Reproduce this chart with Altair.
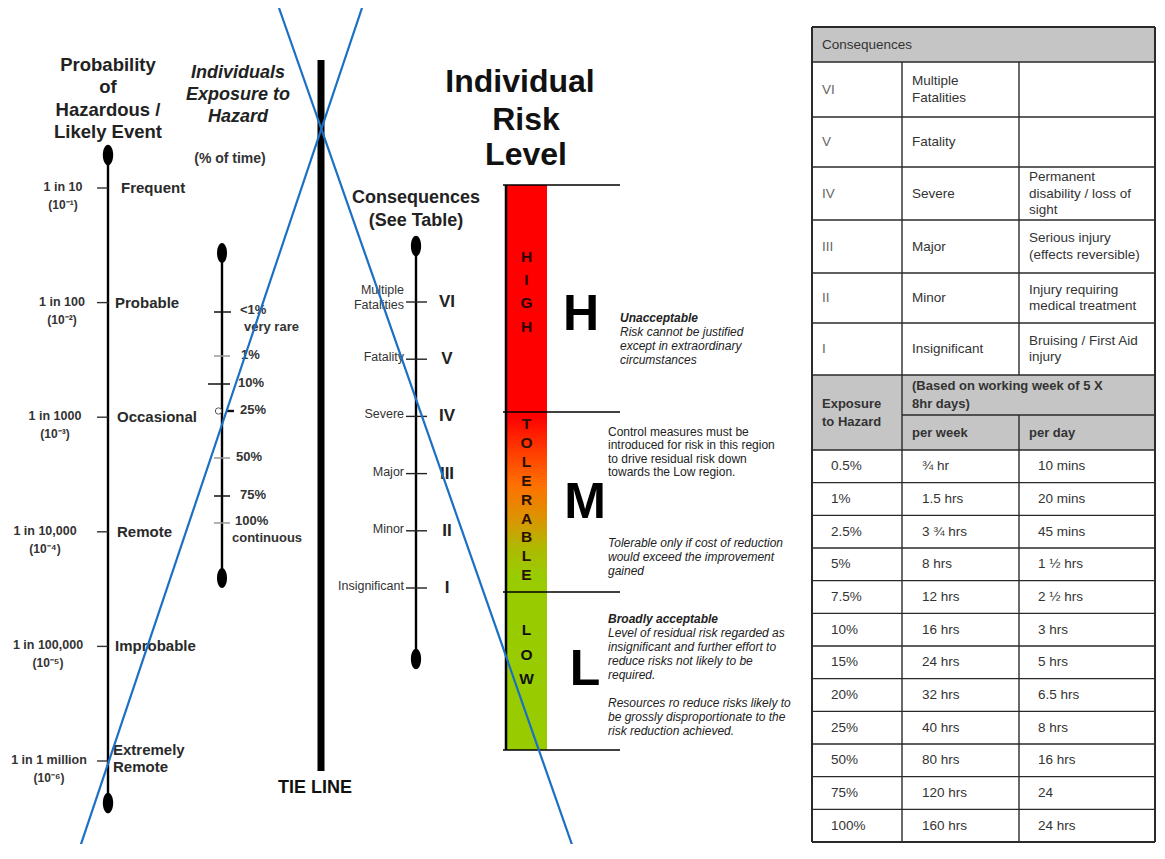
import altair as alt
import pandas as pd

FONT = "Liberation Sans"

# ---------------- values ----------------
prob_labels = ["1 in 10", "1 in 100", "1 in 1000", "1 in 10,000", "1 in 100,000", "1 in 1 million"]
prob_powers = ["(10⁻¹)", "(10⁻²)", "(10⁻³)", "(10⁻⁴)", "(10⁻⁵)", "(10⁻⁶)"]
prob_exponent = [-1, -2, -3, -4, -5, -6]
prob_names = [["Frequent"], ["Probable"], ["Occasional"], ["Remote"], ["Improbable"], ["Extremely", "Remote"]]

exposure_labels = ["<1%", "1%", "10%", "25%", "50%", "75%", "100%"]
exposure_notes = ["very rare", "", "", "", "", "", "continuous"]

cons_level = [6, 5, 4, 3, 2, 1]
cons_roman = ["VI", "V", "IV", "III", "II", "I"]
cons_names = [["Multiple", "Fatalities"], ["Fatality"], ["Severe"], ["Major"], ["Minor"], ["Insignificant"]]
cons_effects = [[], [], ["Permanent", "disability / loss of", "sight"],
                ["Serious injury", "(effects reversible)"],
                ["Injury requiring", "medical treatment"],
                ["Bruising  / First Aid", "injury"]]

risk_words = ["HIGH", "TOLERABLE", "LOW"]
risk_letters = ["H", "M", "L"]

table_exposure = ["0.5%", "1%", "2.5%", "5%", "7.5%", "10%", "15%", "20%", "25%", "50%", "75%", "100%"]
table_per_week = ["¾ hr", "1.5 hrs", "3 ¾ hrs", "8 hrs", "12 hrs", "16 hrs", "24 hrs", "32 hrs",
                  "40 hrs", "80 hrs", "120 hrs", "160 hrs"]
table_per_day = ["10 mins", "20 mins", "45 mins", "1 ½ hrs", "2 ½ hrs", "3 hrs", "5 hrs", "6.5 hrs",
                 "8 hrs", "16 hrs", "24", "24 hrs"]

# ---------------- layout ----------------
W, H = 1149, 836
xs = alt.Scale(domain=[8, 1157], nice=False, zero=False)
ys = alt.Scale(domain=[8, 8 + H], nice=False, zero=False, reverse=True)
X = alt.X("x:Q", scale=xs, axis=None)
Y = alt.Y("y:Q", scale=ys, axis=None)
X2 = alt.X2("x2:Q")
Y2 = alt.Y2("y2:Q")

layers = []


def rules(rows, color="#111", width=1.5):
    df = pd.DataFrame(rows, columns=["x", "y", "x2", "y2"])
    layers.append(alt.Chart(df).mark_rule(color=color, strokeWidth=width, strokeCap="butt")
                  .encode(x=X, y=Y, x2=X2, y2=Y2))


def rects(rows, **mk):
    df = pd.DataFrame(rows, columns=["x", "y", "x2", "y2"])
    layers.append(alt.Chart(df).mark_rect(**mk).encode(x=X, y=Y, x2=X2, y2=Y2))


def texts(rows, size, weight="normal", style="normal", align="left", color="#222"):
    df = pd.DataFrame(rows, columns=["x", "y", "t"])
    layers.append(alt.Chart(df).mark_text(font=FONT, fontSize=size, fontWeight=weight, fontStyle=style,
                                          align=align, baseline="middle", color=color)
                  .encode(x=X, y=Y, text="t:N"))


ELLIPSE = ("M0,-1 C0.276,-1 0.5,-0.552 0.5,0 C0.5,0.552 0.276,1 0,1 "
           "C-0.276,1 -0.5,0.552 -0.5,0 C-0.5,-0.552 -0.276,-1 0,-1 Z")


def dots(rows, size=420):
    df = pd.DataFrame(rows, columns=["x", "y"])
    layers.append(alt.Chart(df).mark_point(shape=ELLIPSE, filled=True, color="#000", opacity=1, size=size)
                  .encode(x=X, y=Y))


# ---------------- table (right) ----------------
TX = [812, 902, 1019, 1155]
cons_rows_y = [27, 62, 117, 167, 220, 273, 323, 375]
HDR2, SUB, DATA_TOP, BOTTOM = 375, 415, 450, 842
n = len(table_exposure)
row_h = (BOTTOM - DATA_TOP) / n
data_y = [DATA_TOP + i * row_h for i in range(n + 1)]

rects([(TX[0], cons_rows_y[0], TX[3], cons_rows_y[1]), (TX[0], HDR2, TX[3], DATA_TOP)], color="#c5c5c5")

hlines = [(TX[0], y, TX[3], y) for y in cons_rows_y[1:]] + [(TX[0], y, TX[3], y) for y in data_y]
hlines.append((TX[1], SUB, TX[3], SUB))
vlines = [(TX[1], cons_rows_y[1], TX[1], BOTTOM), (TX[2], cons_rows_y[1], TX[2], HDR2),
          (TX[2], SUB, TX[2], BOTTOM)]
rules(hlines + vlines, color="#2a2a2a", width=1.4)
rules([(TX[0], cons_rows_y[0], TX[3], cons_rows_y[0]), (TX[0], BOTTOM, TX[3], BOTTOM),
       (TX[0], cons_rows_y[0], TX[0], BOTTOM), (TX[3], cons_rows_y[0], TX[3], BOTTOM)],
      color="#2a2a2a", width=2)

texts([(TX[0] + 10, (cons_rows_y[0] + cons_rows_y[1]) / 2, "Consequences")], 13.5, color="#333")
roman_rows, name_rows, effect_rows = [], [], []
for i, r in enumerate(cons_roman):
    cy = (cons_rows_y[i + 1] + cons_rows_y[i + 2]) / 2
    roman_rows.append((TX[0] + 10, cy, r))
    nm = cons_names[i]
    for k, line in enumerate(nm):
        name_rows.append((TX[1] + 10, cy + (k - (len(nm) - 1) / 2) * 16.5, line))
    ef = cons_effects[i]
    for k, line in enumerate(ef):
        effect_rows.append((TX[2] + 10, cy + (k - (len(ef) - 1) / 2) * 16.5, line))
texts(roman_rows, 13.5, color="#666")
texts(name_rows + effect_rows, 13.5, color="#333")

hdr_c = (HDR2 + DATA_TOP) / 2
texts([(TX[0] + 10, hdr_c - 9, "Exposure"), (TX[0] + 10, hdr_c + 9, "to Hazard"),
       (TX[1] + 10, (HDR2 + SUB) / 2 - 9, "(Based on working week of 5 X"),
       (TX[1] + 10, (HDR2 + SUB) / 2 + 9, "8hr days)"),
       (TX[1] + 10, (SUB + DATA_TOP) / 2, "per week"), (TX[2] + 10, (SUB + DATA_TOP) / 2, "per day")],
      13, weight="bold", color="#333")
data_rows = []
for i in range(n):
    cy = (data_y[i] + data_y[i + 1]) / 2
    data_rows += [(TX[0] + 19, cy, table_exposure[i]), (TX[1] + 20, cy, table_per_week[i]),
                  (TX[2] + 19, cy, table_per_day[i])]
texts(data_rows, 13.5, color="#333")

# ---------------- risk level bar ----------------
RB = [185, 412, 592, 750]
BAR_L, BAR_R, LINE_R = 506, 547, 620
grad = alt.Gradient(gradient="linear", x1=0, x2=0, y1=0, y2=1, stops=[
    alt.GradientStop(color="#ff0000", offset=0),
    alt.GradientStop(color="#ff0000", offset=0.41),
    alt.GradientStop(color="#ff3a00", offset=0.47),
    alt.GradientStop(color="#ff7000", offset=0.53),
    alt.GradientStop(color="#dc9400", offset=0.59),
    alt.GradientStop(color="#b0b800", offset=0.64),
    alt.GradientStop(color="#99cc00", offset=0.69),
    alt.GradientStop(color="#99cc00", offset=1)])
rects([(BAR_L, RB[0], BAR_R, RB[3])], color=grad)
rules([(BAR_L, RB[0], BAR_L, RB[3])], color="#000", width=2.5)
rules([(BAR_L - 3, y, LINE_R, y) for y in RB], color="#000", width=1.3)

word_cfg = [(257, 23.2), (424, 18.9), (630, 24.5)]
word_colors = ["#2a0000", "#2a1000", "#111"]
for w, (y0, step), col in zip(risk_words, word_cfg, word_colors):
    texts([((BAR_L + BAR_R) / 2, y0 + k * step, ch) for k, ch in enumerate(w)], 15.5, weight="bold",
          color=col, align="center")

texts([(581, 315, risk_letters[0]), (585, 503, risk_letters[1]), (585, 670, risk_letters[2])],
      50, weight="bold", align="center", color="#000")

texts([(520, 82, "Individual"), (526, 120, "Risk"), (526, 155, "Level")],
      32, weight="bold", align="center", color="#111")

texts([(620, 318, "Unacceptable"), (608, 619, "Broadly acceptable")], 12, weight="bold", style="italic")
texts([(620, 332, "Risk cannot be justified"), (620, 346, "except in extraordinary"),
       (620, 360, "circumstances"),
       (608, 543, "Tolerable only if cost of reduction"), (608, 557, "would exceed the improvement"),
       (608, 571, "gained"),
       (608, 633, "Level of residual risk regarded as"), (608, 647, "insignificant and further effort to"),
       (608, 661, "reduce risks not likely to be"), (608, 675, "required."),
       (608, 703, "Resources ro reduce risks likely to"), (608, 717, "be grossly disproportionate to the"),
       (608, 731, "risk reduction achieved.")], 12, style="italic")
texts([(608, 432, "Control measures must be"), (608, 445, "introduced for risk in this region"),
       (608, 459, "to drive residual risk down"), (608, 472, "towards the Low region.")], 12)

# ---------------- probability axis ----------------
PROB_X = 108


def prob_y(e):
    return 188 + (-1 - e) * 114.6


prob_label_cx = [63, 62, 55, 45, 48, 49]
prob_name_x = [121, 115, 117, 117, 115, 113]
rules([(PROB_X, 155, PROB_X, 803)], color="#000", width=2.4)
dots([(PROB_X, 155), (PROB_X, 803)], size=430)
rules([(97, prob_y(e), PROB_X, prob_y(e)) for e in prob_exponent], color="#333", width=1.4)
texts([(cx, prob_y(e) - 1, lab) for cx, e, lab in zip(prob_label_cx, prob_exponent, prob_labels)],
      12.5, weight="bold", align="center", color="#333")
texts([(cx, prob_y(e) + 17, p) for cx, e, p in zip(prob_label_cx, prob_exponent, prob_powers)],
      12, weight="bold", align="center", color="#333")
name_rows = []
for nx, e, nm in zip(prob_name_x, prob_exponent, prob_names):
    if len(nm) == 1:
        name_rows.append((nx, prob_y(e), nm[0]))
    else:
        name_rows += [(nx, prob_y(e) - 11, nm[0]), (nx, prob_y(e) + 6, nm[1])]
texts(name_rows, 15, weight="bold", color="#2a2a2a")
texts([(PROB_X, 65, "Probability"), (PROB_X, 87, "of"), (PROB_X, 110, "Hazardous /"),
       (PROB_X, 132, "Likely Event")], 18.5, weight="bold", align="center", color="#222")

# ---------------- exposure axis ----------------
EXP_X = 222
exp_tick_y = [312, 356, 384, 411, 458, 496, 523]
exp_tick_x1 = [214, 214, 208, 226, 214, 214, 214]
exp_tick_x2 = [231, 230, 230, 234, 230, 230, 230]
exp_tick_col = ["#111", "#999", "#111", "#111", "#999", "#111", "#999"]
rules([(EXP_X, 253, EXP_X, 578)], color="#000", width=2.4)
dots([(EXP_X, 253), (EXP_X, 578)], size=400)
for y, a, b, c in zip(exp_tick_y, exp_tick_x1, exp_tick_x2, exp_tick_col):
    rules([(a, y, b, y)], color=c, width=2.4 if a == 226 else 1.5)
layers.append(alt.Chart(pd.DataFrame({"x": [218.5], "y": [411]})).mark_point(
    shape="circle", filled=True, fill="white", stroke="#555", strokeWidth=1, size=40, opacity=1)
    .encode(x=X, y=Y))
exp_label_x = [240, 241, 238, 240, 236, 240, 235]
exp_rows = []
for lx, y, lab, note in zip(exp_label_x, exp_tick_y, exposure_labels, exposure_notes):
    exp_rows.append((lx, y - 1 if not note else y - 2, lab))
    if note:
        exp_rows.append((lx + (4 if lab == "<1%" else -3), y + 15, note))
texts(exp_rows, 13, weight="bold", color="#333")
texts([(238, 73, "Individuals"), (238, 95, "Exposure to"), (238, 117, "Hazard")], 18,
      weight="bold", style="italic", align="center", color="#222")
texts([(230, 159, "(% of time)")], 14, weight="bold", align="center", color="#333")

# ---------------- tie line ----------------
rules([(321, 60, 321, 771)], color="#000", width=7)
texts([(315, 788, "TIE LINE")], 18, weight="bold", align="center", color="#111")

# ---------------- consequences axis ----------------
CONS_X = 416


def cons_y(level):
    return 302 + (6 - level) * 57.2


rules([(CONS_X, 246, CONS_X, 659)], color="#000", width=2.4)
dots([(CONS_X, 246), (CONS_X, 659)], size=420)
rules([(406, cons_y(l), 427, cons_y(l)) for l in cons_level], color="#222", width=1.4)
cn_rows = []
for l, nm in zip(cons_level, cons_names):
    if len(nm) == 1:
        cn_rows.append((404, cons_y(l) - 2, nm[0]))
    else:
        cn_rows += [(404, cons_y(l) - 12, nm[0]), (404, cons_y(l) + 3, nm[1])]
texts(cn_rows, 12.5, align="right", color="#333")
texts([(447, cons_y(l), r) for l, r in zip(cons_level, cons_roman)], 17, weight="bold",
      align="center", color="#222")
texts([(CONS_X, 198, "Consequences"), (CONS_X, 221, "(See Table)")], 18, weight="bold",
      align="center", color="#222")

# ---------------- blue tie lines ----------------
rules([(279, 8, 577, 859), (362, 8, 76, 859)], color="#1b6fc4", width=2.2)

chart = alt.layer(*layers).properties(
    width=W, height=H, padding=0, background="white",
    autosize=alt.AutoSizeParams(type="none"),
).configure_view(stroke=None)

chart.save("out.html", embed_options={"renderer": "svg", "actions": False})
